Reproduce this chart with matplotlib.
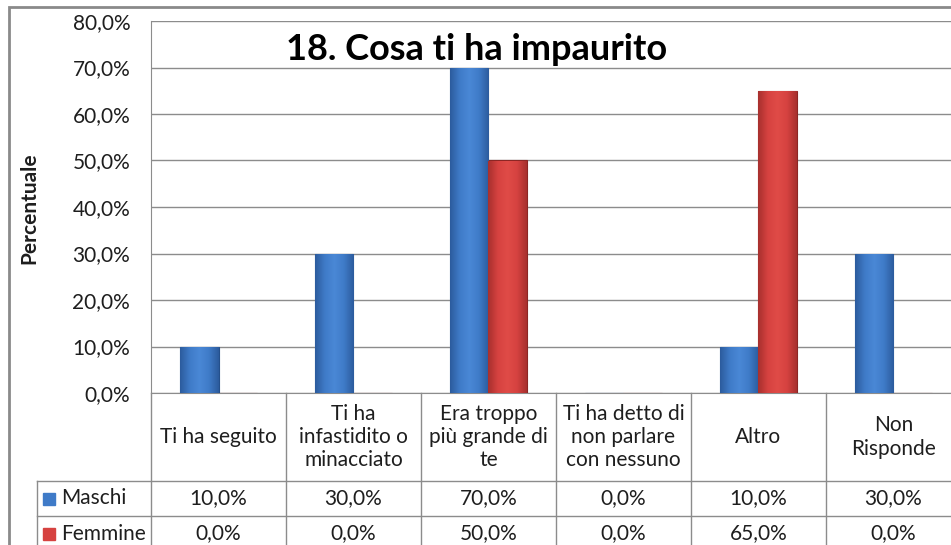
import matplotlib
matplotlib.use("Agg")
import matplotlib.pyplot as plt
import numpy as np
from matplotlib.patches import Rectangle
from matplotlib.lines import Line2D
from matplotlib.colors import LinearSegmentedColormap

categories = ["Ti ha seguito", "Ti ha\ninfastidito o\nminacciato", "Era troppo\npiù grande di\nte",
              "Ti ha detto di\nnon parlare\ncon nessuno", "Altro", "Non\nRisponde"]
maschi = [10.0, 30.0, 70.0, 0.0, 10.0, 30.0]
femmine = [0.0, 0.0, 50.0, 0.0, 65.0, 0.0]
series_names = ["Maschi", "Femmine"]
yticks = [0, 10, 20, 30, 40, 50, 60, 70, 80]

blue = "#3f7bc8"
red = "#d64240"
grid_c = "#8c8c8c"
txt_c = "#1e1e1e"
fnt = "Lato"
fs = 15

W, H = 951, 545
fig = plt.figure(figsize=(W / 100, H / 100), dpi=100)

# outer chart border
fig.add_artist(Rectangle((9 / W, -0.1), 1.1, (545 - 7) / H + 0.1, transform=fig.transFigure,
                         fill=False, ec="#8a8a8a", lw=2))

ax = fig.add_axes([151 / W, 152 / H, 810 / W, 372 / H])
x = np.arange(len(categories))
bw = 0.285
b1 = ax.bar(x - bw / 2, maschi, bw, color=blue, ec="#24508c", lw=0.8, zorder=3)
b2 = ax.bar(x + bw / 2, femmine, bw, color=red, ec="#8c2624", lw=0.8, zorder=3)

# bevel-like horizontal shading clipped to each bar
cm_b = LinearSegmentedColormap.from_list("b", ["#2c5c9e", "#3f7bc8", "#4a88d6", "#3f7bc8", "#2c5c9e"])
cm_r = LinearSegmentedColormap.from_list("r", ["#a8302e", "#d64240", "#e04b47", "#d64240", "#a8302e"])
grad = np.linspace(0, 1, 64).reshape(1, -1)
for bars, cm in [(b1, cm_b), (b2, cm_r)]:
    for p in bars:
        h = p.get_height()
        if h <= 0:
            continue
        x0 = p.get_x()
        im = ax.imshow(grad, cmap=cm, aspect="auto", extent=[x0, x0 + p.get_width(), 0, h],
                       zorder=3.5, interpolation="bilinear")
        im.set_clip_path(p)

ax.set_xlim(-0.5, len(categories) - 0.5)
ax.set_ylim(0, 80)
ax.set_yticks(yticks)
ax.set_yticklabels([f"{v:.1f}%".replace(".", ",") for v in yticks], fontsize=fs, family=fnt, color=txt_c)
ax.tick_params(axis="y", length=0, pad=15)
ax.tick_params(axis="x", length=0, labelbottom=False)
ax.yaxis.grid(True, color=grid_c, lw=1)
ax.set_axisbelow(True)
for s in ["top", "right"]:
    ax.spines[s].set_visible(False)
ax.spines["left"].set_color(grid_c)
ax.spines["bottom"].set_color(grid_c)
fig.text(29 / W, (545 - 208) / H, "Percentuale", rotation=90, ha="center", va="center",
         fontsize=15, family=fnt, fontweight="bold", color=txt_c)
fig.text(477 / W, (545 - 50) / H, "18. Cosa ti ha impaurito", ha="center", va="center",
         fontsize=26, family=fnt, fontweight="bold", color="black")

# data table below the axes (y in axes fraction)
px = 1 / 372
r0, r1, r2, r3 = 0, -88 * px, -123 * px, -158 * px
tr = ax.get_xaxis_transform()
leg_left = -0.5 - (151 - 37) / 135
lines = []
for b in np.arange(-0.5, len(categories), 1.0):
    lines.append(([b, b], [r0, r3]))
lines.append(([leg_left, leg_left], [r1, r3]))
lines.append(([leg_left, len(categories)], [r1, r1]))
lines.append(([leg_left, len(categories)], [r2, r2]))
for xs, ys in lines:
    ax.add_line(Line2D(xs, ys, transform=tr, color=grid_c, lw=1, clip_on=False))

for i, c in enumerate(categories):
    ax.text(i, (r0 + r1) / 2, c, transform=tr, ha="center", va="center", fontsize=fs,
            family=fnt, linespacing=1.2, color=txt_c)
    ax.text(i, (r1 + r2) / 2, f"{maschi[i]:.1f}%".replace(".", ","), transform=tr, ha="center",
            va="center", fontsize=fs, family=fnt, color=txt_c)
    ax.text(i, (r2 + r3) / 2, f"{femmine[i]:.1f}%".replace(".", ","), transform=tr, ha="center",
            va="center", fontsize=fs, family=fnt, color=txt_c)

for (ya, yb), name, col in [((r1, r2), series_names[0], blue), ((r2, r3), series_names[1], red)]:
    ym = (ya + yb) / 2
    ax.add_patch(Rectangle((leg_left + 6 / 135, ym - 6 * px), 12 / 135, 12 * px, transform=tr,
                           color=col, clip_on=False))
    ax.text(leg_left + 24 / 135, ym, name, transform=tr, ha="left", va="center", fontsize=fs,
            family=fnt, color=txt_c)

fig.savefig("out.png", dpi=100)
